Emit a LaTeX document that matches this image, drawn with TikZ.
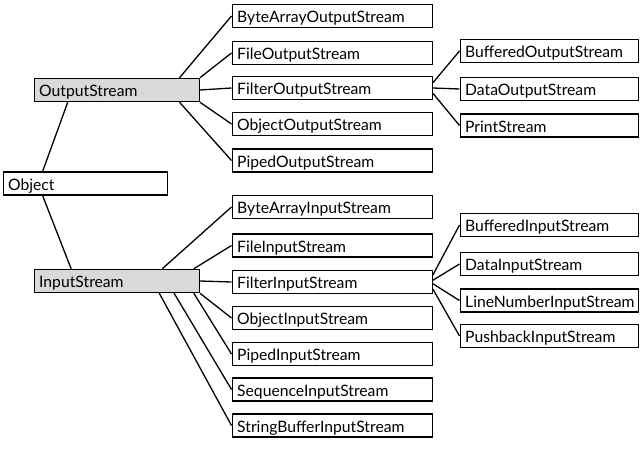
\documentclass[tikz,border=0pt]{standalone}
\usepackage{fontspec}
\setmainfont{Lato}
\definecolor{baseblock}{gray}{0.85}

\tikzset{
	cls/.style={draw, line width=1.4pt, minimum height=23pt, inner xsep=5pt, inner ysep=0pt,
		text height=14pt, text depth=1pt, align=left, anchor=west, text width=#1,
		font=\fontsize{15.7}{18}\selectfont},
	basebox/.style={cls=155pt, fill=baseblock},
	midbox/.style={cls=190pt},
	leafbox/.style={cls=168pt},
	link/.style={line width=1.3pt},
}

\begin{document}
\begin{tikzpicture}[x=1pt, y=-1pt]
	\useasboundingbox (0,0) rectangle (640,453);
	
	\node[cls=154pt] (obj) at (2.5,183.5) {Object};
	\node[basebox] (os) at (33.5,90) {OutputStream};
	\node[basebox] (is) at (33.5,281) {InputStream};
	
	% output side
	\node[midbox] (baos) at (231.5,16) {ByteArrayOutputStream};
	\node[midbox] (fos) at (231.5,53) {FileOutputStream};
	\node[midbox] (flos) at (231.5,88) {FilterOutputStream};
	\node[midbox] (oos) at (231.5,124) {ObjectOutputStream};
	\node[midbox] (pos) at (231.5,160.5) {PipedOutputStream};
	
	\node[leafbox] (bos) at (459.5,51) {BufferedOutputStream};
	\node[leafbox] (dos) at (459.5,89) {DataOutputStream};
	\node[leafbox] (ps) at (459.5,125.5) {PrintStream};
	
	% input side
	\node[midbox] (bais) at (231.5,207) {ByteArrayInputStream};
	\node[midbox] (fis) at (231.5,245.5) {FileInputStream};
	\node[midbox] (flis) at (231.5,282) {FilterInputStream};
	\node[midbox] (ois) at (231.5,318) {ObjectInputStream};
	\node[midbox] (pis) at (231.5,354) {PipedInputStream};
	\node[midbox] (sis) at (231.5,389.5) {SequenceInputStream};
	\node[midbox] (sbis) at (231.5,425.5) {StringBufferInputStream};
	
	\node[leafbox] (bis) at (459.5,225) {BufferedInputStream};
	\node[leafbox] (dis) at (459.5,264) {DataInputStream};
	\node[leafbox] (lnis) at (459.5,300.5) {LineNumberInputStream};
	\node[leafbox] (pbis) at (459.5,336) {PushbackInputStream};
	
	\draw[link] (obj.164.9) -- (os.-166);
	\draw[link] (obj.-164.9) -- (is.165.1);
	
	\foreach \a/\c in {11.3/baos, north east/fos, east/flos, south east/oos, -11.1/pos}
		\draw[link] (os.\a) -- (\c.west);
	\foreach \a/\c in {3.8/bos, east/dos, -3.9/ps}
		\draw[link] (flos.\a) -- (\c.west);
	
	\foreach \a/\c in {15.6/bais, 9.9/fis, east/flis, south east/ois, -9.7/pis, -12.3/sis, -16.3/sbis}
		\draw[link] (is.\a) -- (\c.west);
	\foreach \a/\c in {4.6/bis, 1.5/dis, -1.5/lnis, -4.4/pbis}
		\draw[link] (flis.\a) -- (\c.west);
	
\end{tikzpicture}
\end{document}
